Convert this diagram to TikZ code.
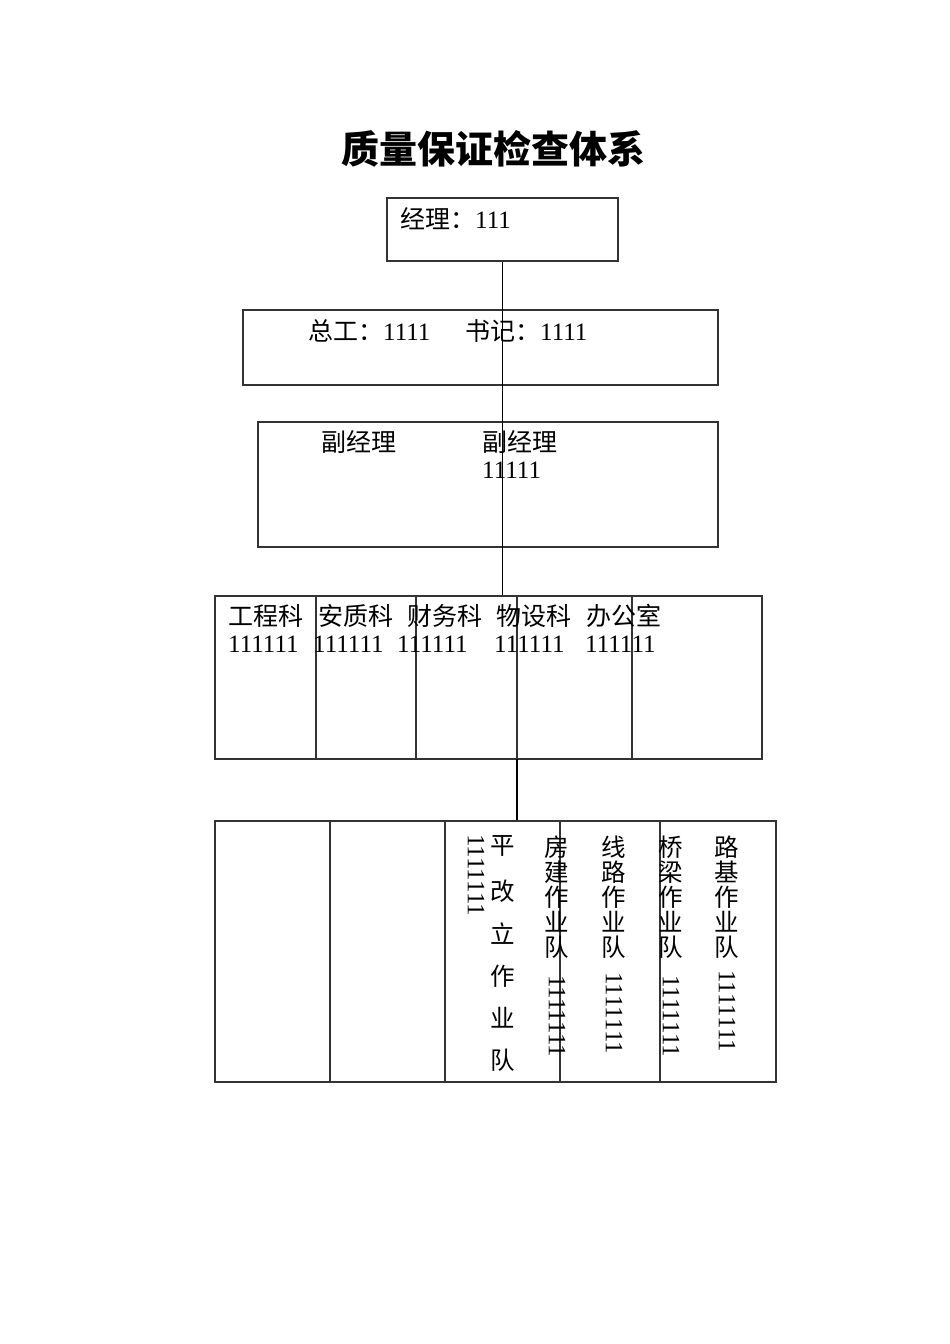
\documentclass[tikz,border=0pt]{standalone}
\usepackage{fontspec}
\setmainfont{Liberation Serif}
\newfontfamily\cjk{Noto Sans CJK SC}
\begin{document}
\begin{tikzpicture}[x=1pt,y=-1pt,
  box/.style={draw=black!80, line width=1.1pt, rectangle, inner sep=0pt},
  txt/.style={inner sep=0pt, anchor=base west, font=\fontsize{25}{28}\selectfont},
  vch/.style={inner sep=0pt, font=\fontsize{24.5}{28}\selectfont\cjk},
  vnum/.style={inner sep=0pt, anchor=west, rotate=-90, font=\fontsize{25}{28}\selectfont},
  conn/.style={draw=black, line width=1.1pt}]
\useasboundingbox (0,0) rectangle (950,1344);
% title
\node[inner sep=0pt, anchor=base, font=\fontsize{38}{42}\selectfont\cjk\bfseries] (title) at (493,163) {质量保证检查体系};
% boxes
\node[box, minimum width=231pt, minimum height=63pt] (b1) at (502.5,229.5) {};
\node[box, minimum width=475pt, minimum height=75pt] (b2) at (480.5,347.5) {};
\node[box, minimum width=460pt, minimum height=125pt] (b3) at (488,484.5) {};
\node[box, minimum width=547pt, minimum height=163pt] (b4) at (488.5,677.5) {};
\node[box, minimum width=561pt, minimum height=261pt] (b5) at (495.5,951.5) {};
% dividers box 4
\foreach \x in {316,416,517,632} \draw[draw=black!80, line width=1.1pt] (\x,596) -- (\x,759);
% dividers box 5
\foreach \x in {330,445,560,660} \draw[draw=black!80, line width=1.1pt] (\x,821) -- (\x,1082);
% connectors
\coordinate (c4) at (517,759);
\draw[conn] (b1.south) -- (b1.south |- b4.north);
\draw[conn] (c4) -- (c4 |- b5.north);
% box 1
\node[txt] (t1) at (400,228) {{\cjk 经理：}111};
% box 2
\node[txt] (t2a) at (308,340) {{\cjk 总工：}1111};
\node[txt] (t2b) at (465,340) {{\cjk 书记：}1111};
% box 3
\node[txt] (t3a) at (321,451) {\cjk 副经理};
\node[txt] (t3b) at (482,451) {\cjk 副经理};
\node[txt] (t3c) at (482,478) {11111};
% box 4
\node[txt] (d1) at (228,625) {\cjk 工程科};
\node[txt] (d2) at (318,625) {\cjk 安质科};
\node[txt] (d3) at (407,625) {\cjk 财务科};
\node[txt] (d4) at (496,625) {\cjk 物设科};
\node[txt] (d5) at (586,625) {\cjk 办公室};
\node[txt] (n1) at (228,652) {111111};
\node[txt] (n2) at (313,652) {111111};
\node[txt] (n3) at (397,652) {111111};
\node[txt] (n4) at (494,652) {111111};
\node[txt] (n5) at (585,652) {111111};
% box 5 vertical texts
\node[vnum] (v0n) at (476,834) {1111111};
\foreach \c/\y [count=\i] in {平/846,改/891,立/934,作/976,业/1018,队/1060}
  \node[vch] (v0c\i) at (503,\y) {\c};
\foreach \c/\y [count=\i] in {房/847,建/872,作/897,业/922,队/947}
  \node[vch] (v1c\i) at (557,\y) {\c};
\node[vnum] (v1n) at (557,975) {1111111};
\foreach \c/\y [count=\i] in {线/847,路/872,作/897,业/922,队/947}
  \node[vch] (v2c\i) at (614,\y) {\c};
\node[vnum] (v2n) at (614,972) {1111111};
\foreach \c/\y [count=\i] in {桥/847,梁/872,作/897,业/922,队/947}
  \node[vch] (v3c\i) at (671,\y) {\c};
\node[vnum] (v3n) at (671,975) {1111111};
\foreach \c/\y [count=\i] in {路/847,基/872,作/897,业/922,队/947}
  \node[vch] (v4c\i) at (727,\y) {\c};
\node[vnum] (v4n) at (727,970) {1111111};
\end{tikzpicture}
\end{document}
